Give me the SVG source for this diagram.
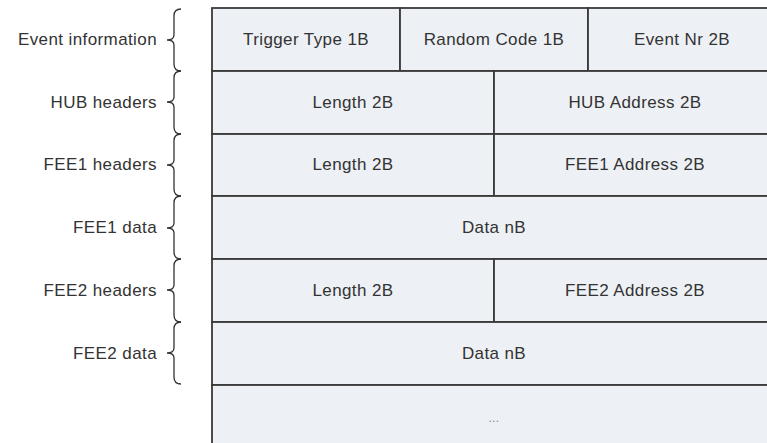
<svg xmlns="http://www.w3.org/2000/svg" width="767" height="443" viewBox="0 0 767 443">
<style>
.cell{fill:#EDF0F5;stroke:#3a3a3a;stroke-width:1.8}
.t{font-family:"Liberation Sans",Arial,sans-serif;font-size:17px;letter-spacing:0.4px;fill:#333;text-anchor:middle}
.l{font-family:"Liberation Sans",Arial,sans-serif;font-size:17px;letter-spacing:0.4px;fill:#333;text-anchor:end}
.br{fill:none;stroke:#333;stroke-width:1.3}
</style>
<rect width="767" height="443" fill="#fff"/>
<g id="row-event">
<rect class="cell" x="212" y="8" width="188" height="63"/>
<rect class="cell" x="400" y="8" width="188" height="63"/>
<rect class="cell" x="588" y="8" width="189" height="63"/>
<text class="t" x="306" y="45">Trigger Type 1B</text>
<text class="t" x="494" y="45">Random Code 1B</text>
<text class="t" x="682" y="45">Event Nr 2B</text>
</g>
<g id="row-hub">
<rect class="cell" x="212" y="71" width="282" height="63"/>
<rect class="cell" x="494" y="71" width="283" height="63"/>
<text class="t" x="353" y="108">Length 2B</text>
<text class="t" x="635" y="108">HUB Address 2B</text>
</g>
<g id="row-fee1h">
<rect class="cell" x="212" y="134" width="282" height="62"/>
<rect class="cell" x="494" y="134" width="283" height="62"/>
<text class="t" x="353" y="170">Length 2B</text>
<text class="t" x="635" y="170">FEE1 Address 2B</text>
</g>
<g id="row-fee1d">
<rect class="cell" x="212" y="196" width="565" height="63"/>
<text class="t" x="494" y="233">Data nB</text>
</g>
<g id="row-fee2h">
<rect class="cell" x="212" y="259" width="282" height="63"/>
<rect class="cell" x="494" y="259" width="283" height="63"/>
<text class="t" x="353" y="296">Length 2B</text>
<text class="t" x="635" y="296">FEE2 Address 2B</text>
</g>
<g id="row-fee2d">
<rect class="cell" x="212" y="322" width="565" height="63"/>
<text class="t" x="494" y="359">Data nB</text>
</g>
<g id="row-more">
<rect class="cell" x="212" y="385" width="565" height="75"/>
<text class="t" x="494" y="422" style="font-size:12px;fill:#888">...</text>
</g>
<g id="labels">
<text class="l" x="157" y="45">Event information</text>
<text class="l" x="157" y="108">HUB headers</text>
<text class="l" x="157" y="170">FEE1 headers</text>
<text class="l" x="157" y="233">FEE1 data</text>
<text class="l" x="157" y="296">FEE2 headers</text>
<text class="l" x="157" y="359">FEE2 data</text>
</g>
<g id="connectors">
<path class="br" d="M181,9 Q174,9 174,16 L174,35 Q174,40 167,40 Q174,40 174,45 L174,64 Q174,71 181,71"/>
<path class="br" d="M181,71 Q174,71 174,78 L174,97 Q174,102 167,102 Q174,102 174,107 L174,127 Q174,134 181,134"/>
<path class="br" d="M181,134 Q174,134 174,141 L174,160 Q174,165 167,165 Q174,165 174,170 L174,189 Q174,196 181,196"/>
<path class="br" d="M181,196 Q174,196 174,203 L174,223 Q174,228 167,228 Q174,228 174,233 L174,252 Q174,259 181,259"/>
<path class="br" d="M181,259 Q174,259 174,266 L174,285 Q174,290 167,290 Q174,290 174,295 L174,315 Q174,322 181,322"/>
<path class="br" d="M181,322 Q174,322 174,329 L174,348 Q174,353 167,353 Q174,353 174,358 L174,377 Q174,384 181,384"/>
</g>
</svg>
